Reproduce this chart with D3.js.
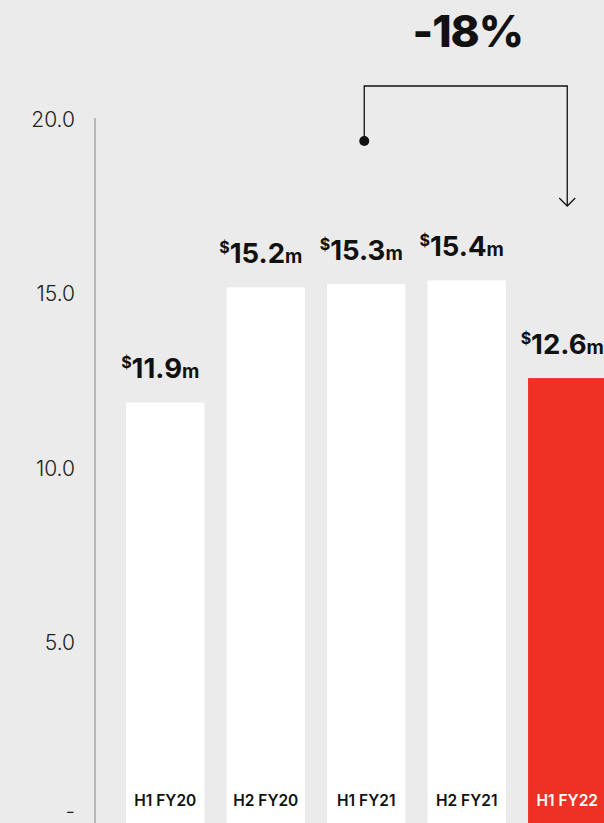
<!DOCTYPE html>
<html>
<head>
<meta charset="utf-8">
<script src="https://cdn.jsdelivr.net/npm/d3@7"></script>
<style>
  html, body { margin: 0; padding: 0; background: #ebebeb; }
  svg { display: block; }
</style>
</head>
<body>
<svg id="chart" width="604" height="823"></svg>
<script>
// Half-year periods and their values ($m)
const periods = ["H1 FY20", "H2 FY20", "H1 FY21", "H2 FY21", "H1 FY22"];
const values = [11.9, 15.2, 15.3, 15.4, 12.6];
const valueLabels = ["11.9", "15.2", "15.3", "15.4", "12.6"];
const highlight = ["H1 FY22"];
const tickValues = [0, 5, 10, 15, 20];
const tickLabels = ["-", "5.0", "10.0", "15.0", "20.0"];
// Change annotation: from H1 FY21 to H1 FY22
const changeFrom = "H1 FY21";
const changeTo = "H1 FY22";
const changeLabel = "-18%";

const W = 604, H = 823;
const FONT = "Inter, 'Noto Sans', sans-serif";
const svg = d3.select("#chart");

svg.append("rect").attr("width", W).attr("height", H).attr("fill", "#ebebeb");

const x = d3.scaleBand().domain(periods).range([115, 617.5])
  .paddingInner(0.22).paddingOuter(0.11);
const y = d3.scaleLinear().domain([0, 20]).range([817.5, 120]);

// Axis line and tick labels
const axisX = 95;
svg.append("line")
  .attr("x1", axisX).attr("x2", axisX)
  .attr("y1", 118).attr("y2", H)
  .attr("stroke", "#a8a8a8").attr("stroke-width", 1.5);

svg.append("g").selectAll("text").data(tickValues).join("text")
  .attr("x", 75)
  .attr("y", d => Math.min(y(d) + 7, 819))
  .attr("text-anchor", "end")
  .attr("font-family", FONT)
  .attr("font-weight", 300)
  .attr("font-size", 21)
  .attr("fill", "#222")
  .text((d, i) => tickLabels[i]);

// Bars (run past the baseline to the bottom edge)
svg.append("g").selectAll("rect").data(periods).join("rect")
  .attr("x", d => x(d))
  .attr("width", x.bandwidth())
  .attr("y", (d, i) => y(values[i]))
  .attr("height", (d, i) => H - y(values[i]))
  .attr("fill", d => highlight.includes(d) ? "#ee3124" : "#ffffff");

// Category labels inside the bars
svg.append("g").selectAll("text").data(periods).join("text")
  .attr("x", d => x(d) + x.bandwidth() / 2)
  .attr("y", 806)
  .attr("text-anchor", "middle")
  .attr("font-family", FONT)
  .attr("font-weight", 600)
  .attr("font-size", 15.5)
  .attr("fill", d => highlight.includes(d) ? "#ffffff" : "#111")
  .text(d => d);

// Value labels: superscript $, number, small m
const vl = svg.append("g").selectAll("text").data(periods).join("text")
  .attr("x", d => x(d) + x.bandwidth() / 2 - 5)
  .attr("y", (d, i) => y(values[i]) - 24)
  .attr("text-anchor", "middle")
  .attr("font-family", FONT)
  .attr("font-weight", 700)
  .attr("fill", "#111");
vl.append("tspan").attr("font-size", 16).attr("dy", -10).text("$");
vl.append("tspan").attr("font-size", 27.5).attr("dy", 10).text((d, i) => valueLabels[i]);
vl.append("tspan").attr("font-size", 19).text("m");

// Change bracket
const xa = x(changeFrom) + x.bandwidth() / 2 - 2;
const xb = x(changeTo) + x.bandwidth() / 2;
const yTop = 86, yDot = 141, yArrow = 206;
svg.append("path")
  .attr("d", `M${xa},${yDot} V${yTop} H${xb} V${yArrow}`)
  .attr("fill", "none").attr("stroke", "#111").attr("stroke-width", 1.3);
svg.append("path")
  .attr("d", `M${xb - 8},${yArrow - 8} L${xb},${yArrow} L${xb + 8},${yArrow - 8}`)
  .attr("fill", "none").attr("stroke", "#111").attr("stroke-width", 1.3);
svg.append("circle").attr("cx", xa).attr("cy", yDot).attr("r", 5).attr("fill", "#111");

svg.append("text")
  .attr("x", (xa + xb) / 2 + 2)
  .attr("y", 47)
  .attr("text-anchor", "middle")
  .attr("font-family", FONT)
  .attr("font-weight", 800)
  .attr("font-size", 44)
  .attr("letter-spacing", -1)
  .attr("fill", "#111")
  .text(changeLabel);
</script>
</body>
</html>
